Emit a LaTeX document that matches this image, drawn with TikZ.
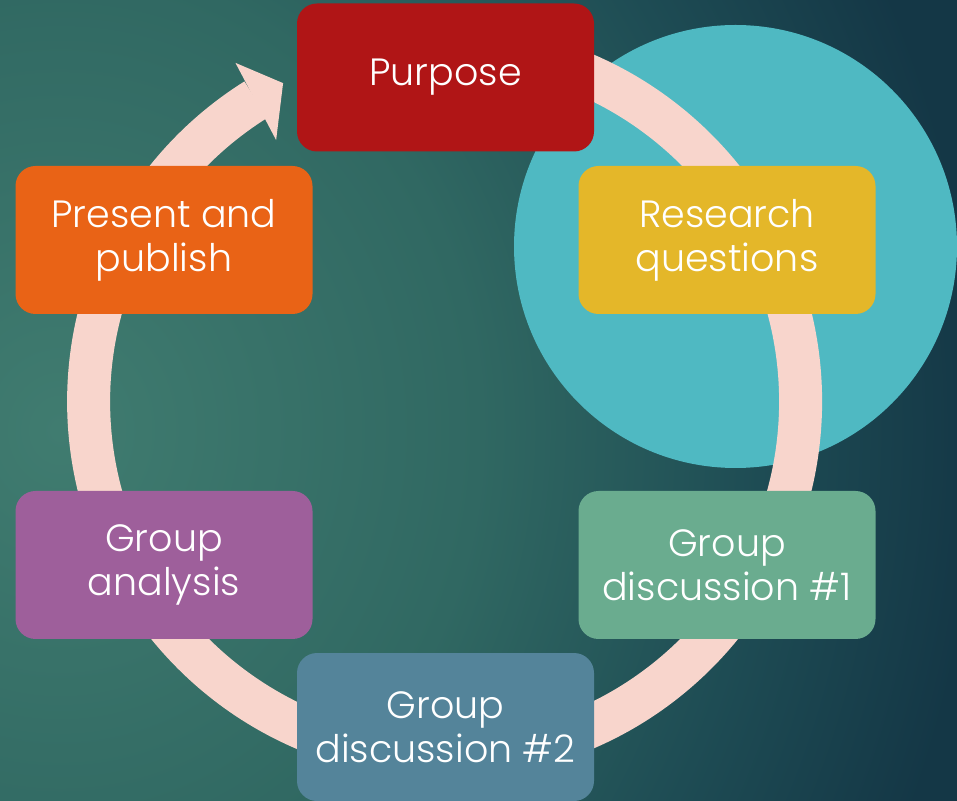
\documentclass[tikz,border=0pt]{standalone}
\usepackage{fontspec}
\IfFontExistsTF{Poppins Light}{\setmainfont{Poppins Light}}{\setmainfont{Poppins}}
\definecolor{bgA}{RGB}{64,124,112}
\definecolor{bgB}{RGB}{48,104,98}
\definecolor{bgC}{RGB}{30,76,84}
\definecolor{bgD}{RGB}{20,55,70}
\definecolor{ringcol}{RGB}{248,213,204}
\definecolor{cyancirc}{RGB}{79,185,194}
\definecolor{cPurpose}{RGB}{176,21,22}
\definecolor{cResearch}{RGB}{228,183,41}
\definecolor{cGDone}{RGB}{106,172,143}
\definecolor{cGDtwo}{RGB}{84,132,154}
\definecolor{cAnalysis}{RGB}{158,95,155}
\definecolor{cPresent}{RGB}{233,99,22}
\pgfdeclareradialshading{bgglow}{\pgfpoint{0bp}{0bp}}{color(0bp)=(bgA); color(10.5bp)=(bgB); color(17.5bp)=(bgC); color(23bp)=(bgD); color(50bp)=(bgD)}
\begin{document}
\begin{tikzpicture}[x=1pt,y=1pt,
  box/.style={rounded corners=20pt, minimum width=297pt, minimum height=148pt,
    text=white, align=center, inner sep=0pt, font=\fontsize{38}{44}\selectfont},
  ring/.style={draw=ringcol, line width=43pt}]
\useasboundingbox (0,0) rectangle (957,800);
\begin{scope}
\clip (0,0) rectangle (957,800);
\shade[shading=bgglow] (-940,-730) rectangle (1060,1470);
\end{scope}
% cyan circle
\fill[cyancirc] (735.5,553.5) circle[radius=221.5];
% cycle ring with arrowhead
\coordinate (ctr) at (444.6,398.5);
\draw[ring] ([shift={(90:356)}]ctr) arc[start angle=90,end angle=-238,radius=356];
\fill[ringcol] ([shift={(121.7:398)}]ctr) -- ([shift={(116.9:357)}]ctr) -- ([shift={(122.8:311)}]ctr) -- cycle;
% boxes
\node[box, fill=cPurpose] (purpose) at (445.5,722.5) {Purpose};
\node[box, fill=cResearch] (research) at (727,560) {Research\\questions};
\node[box, fill=cGDone] (gd1) at (727,235) {Group\\discussion \#1};
\node[box, fill=cGDtwo] (gd2) at (445.5,73) {Group\\discussion \#2};
\node[box, fill=cAnalysis] (analysis) at (164,235) {Group\\analysis};
\node[box, fill=cPresent] (present) at (164,560) {Present and\\publish};
\end{tikzpicture}
\end{document}
